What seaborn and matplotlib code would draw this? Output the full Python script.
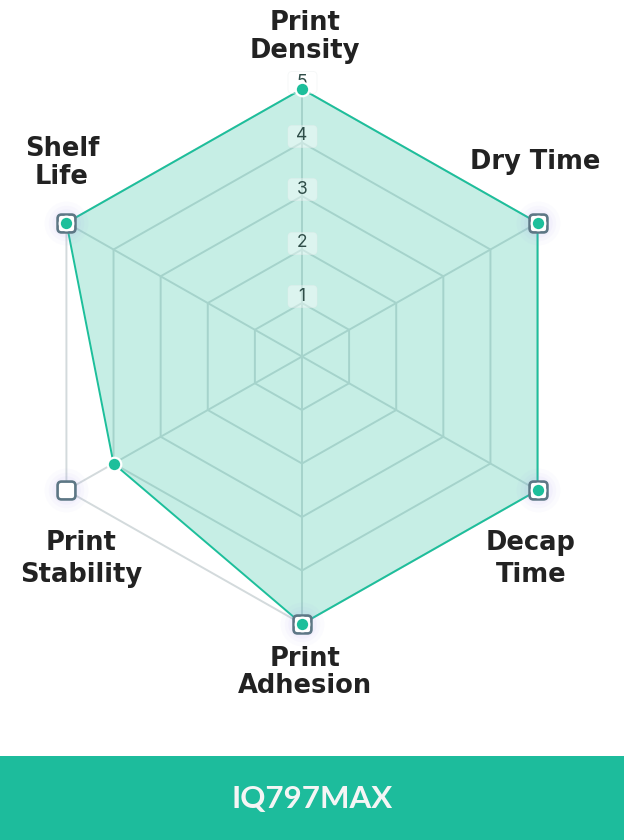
import numpy as np
import matplotlib
matplotlib.use("Agg")
import matplotlib.pyplot as plt
import seaborn as sns
from matplotlib.patches import BoxStyle, Rectangle
from matplotlib.transforms import offset_copy

# ---- data ----
categories = ["Print\nDensity", "Dry Time", "Decap\nTime", "Print\nAdhesion", "Print\nStability", "Shelf\nLife"]
values = [5, 5, 5, 5, 4, 5]
max_value = 5
levels = [1, 2, 3, 4, 5]
tick_labels = ["1", "2", "3", "4", "5"]
product = "IQ797MAX"

# ---- style ----
sns.set_theme(style="white")
plt.rcParams['font.family'] = ['Inter', 'DejaVu Sans']

TEAL = "#1dbf9b"
GRID = "#d3dadc"
W, H = 624, 840

fig = plt.figure(figsize=(W / 100, H / 100), dpi=100)
ax = fig.add_axes([0, 0, 1, 1])
ax.set_xlim(-5.551, 5.919)
ax.set_ylim(-9.037, 6.664)
ax.axis("off")

n = len(categories)
theta = np.arange(n) * 2 * np.pi / n
ux, uy = np.sin(theta), np.cos(theta)
vals = np.array(values, dtype=float)

def closed(a):
    return np.append(a, a[0])

# grid rings and spokes
for lv in levels:
    ax.plot(closed(ux) * lv, closed(uy) * lv, color=GRID, lw=1.4, zorder=1, solid_joinstyle="miter")
for i in range(n):
    ax.plot([0, ux[i] * max_value], [0, uy[i] * max_value], color=GRID, lw=1.4, zorder=1)

# data polygon
dx, dy = ux * vals, uy * vals
ax.fill(closed(dx), closed(dy), color=TEAL, alpha=0.25, lw=0, zorder=2)
ax.plot(closed(dx), closed(dy), color=TEAL, lw=1.4, zorder=3)

# rounded square marker
def rounded_rect(w, h, r):
    return BoxStyle.Round(pad=0, rounding_size=r)(-w / 2, -h / 2, w, h, 1.0)

sq = rounded_rect(1.0, 1.0, 0.22)
# soft glow
for s_, a_ in [(1000, 0.03), (650, 0.04), (420, 0.05)]:
    ax.scatter(ux[1:] * max_value, uy[1:] * max_value, s=s_, color="#9d8cf5", alpha=a_, lw=0, zorder=3.5)
ax.scatter(ux[1:] * max_value, uy[1:] * max_value, marker=sq, s=165, facecolor="white",
           edgecolor="#5d7785", linewidths=1.9, zorder=4)

# tick label boxes
box = rounded_rect(1.32, 1.0, 0.18)
tr = offset_copy(ax.transData, fig=fig, x=0, y=4.8, units="points")
ax.scatter(np.zeros(len(levels)), levels, marker=box, s=436, facecolor="white", alpha=0.4,
           edgecolor="#e6eaea", linewidths=0.6, transform=tr, zorder=5)
for lv, lab in zip(levels, tick_labels):
    ax.text(0, lv, lab, transform=tr, ha="center", va="center", fontsize=12.5,
            color="#2f4d48", zorder=6)

# data points
sns.scatterplot(x=dx, y=dy, s=95, color=TEAL, edgecolor="white", linewidth=1.6,
                zorder=7, ax=ax, legend=False)

# axis labels (pixel layout: centre x, baselines of each line)
label_x = [305, 535, 531, 305, 81, 62]
label_base = [(30, 58), (169,), (550, 582), (666, 693), (550, 582), (156, 184)]
for cat, lx, bases in zip(categories, label_x, label_base):
    for line, by in zip(cat.split("\n"), bases):
        fig.text(lx / W, 1 - by / H, line, ha="center", va="baseline", fontsize=18.5,
                 fontweight="bold", color="#222222", family=["DejaVu Sans"])

# bottom banner
fig.patches.append(Rectangle((0, 0), 1, 84 / H, transform=fig.transFigure,
                             facecolor="#1dbc9c", edgecolor="none", zorder=0))
fig.text(312 / W, 1 - 799 / H, product, ha="center", va="center", fontsize=22.5,
         fontweight="bold", color="#f5f5f5", family=["Lato", "DejaVu Sans"])

fig.savefig("out.png", dpi=100)
